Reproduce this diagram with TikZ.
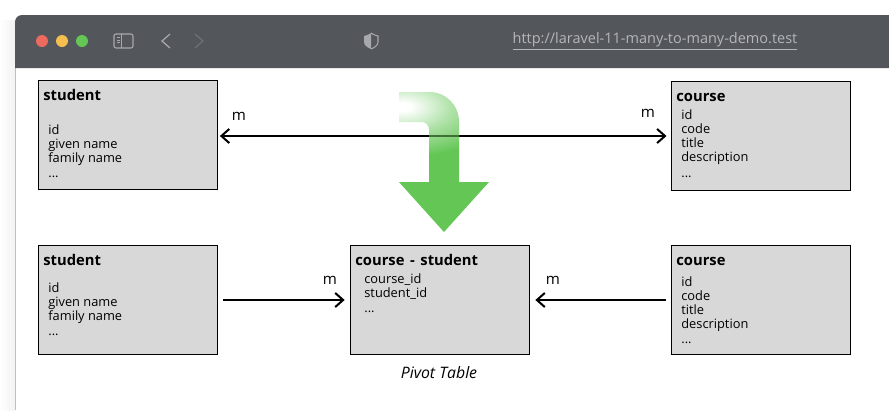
\documentclass[tikz,border=0pt]{standalone}
\usepackage{fontspec}
\setmainfont{Open Sans}
\usetikzlibrary{arrows.meta}
\definecolor{titlebar}{HTML}{53565B}
\definecolor{tablefill}{HTML}{D8D8D8}
\definecolor{bendgreen}{HTML}{63C655}
\definecolor{bendline}{HTML}{3F7036}
\definecolor{urlgray}{HTML}{B4B6B8}
\definecolor{icongray}{HTML}{A6A8AB}
\definecolor{dotred}{HTML}{EC6A5E}
\definecolor{dotyellow}{HTML}{F5BF4F}
\definecolor{chevrondim}{HTML}{6D7074}
\pgfdeclareradialshading{bendglow}{\pgfpointorigin}{color(0bp)=(white); color(1bp)=(white); color(6bp)=(bendgreen!50!white); color(12.5bp)=(bendgreen); color(50bp)=(bendgreen)}
\tikzset{
	tablebox/.style={draw, line width=0.7pt, fill=tablefill, minimum width=3.58cm, minimum height=2.18cm, inner sep=0pt},
	tabletitle/.style={anchor=base west, inner sep=0pt, font=\fontsize{8.4}{9}\selectfont\bfseries},
	tablefields/.style={anchor=north west, align=left, inner sep=0pt, font=\fontsize{7.3}{7.95}\selectfont},
	wire/.style={line width=1.15pt, {Straight Barb[length=4.5pt, width=8pt]}-{Straight Barb[length=4.5pt, width=8pt]}},
	onlyhead/.style={line width=1.15pt, -{Straight Barb[length=4.5pt, width=8pt]}},
	mlabel/.style={inner sep=0pt, font=\fontsize{8.6}{9}\selectfont},
}
\begin{document}
\begin{tikzpicture}[x=0.02cm, y=-0.02cm]
	\useasboundingbox (0, 0) rectangle (889, 410);
	% Window frame:
	\fill[white] (0, 0) rectangle (889, 410);
	\shade[left color=white, right color=black!5] (0, 20) rectangle (15, 410);
	\fill[white] (15, 60) rectangle (889, 410);
	\draw[black!25, line width=0.5pt] (15.5, 68) -- (15.5, 410);
	\fill[titlebar] (15, 68) [rounded corners=0.14cm] -- (15, 15) [sharp corners] -- (889, 15) -- (889, 68) -- cycle;
	\fill[dotred] (42, 41) circle (6);
	\fill[dotyellow] (62, 41) circle (6);
	\fill[bendgreen] (82, 41) circle (6);
	\draw[icongray, line width=0.6pt, rounded corners=0.04cm] (114, 34) rectangle (133, 48);
	\draw[icongray, line width=0.6pt] (121.5, 34) -- (121.5, 48);
	\draw[icongray, line width=0.4pt] (117, 37.5) -- (119.5, 37.5) (117, 40) -- (119.5, 40) (117, 42.5) -- (119.5, 42.5);
	\draw[icongray, line width=0.7pt] (170, 34) -- (162, 41) -- (170, 48);
	\draw[chevrondim, line width=0.7pt] (195, 34) -- (203, 41) -- (195, 48);
	\fill[icongray] (371, 33) .. controls (368, 35) and (366, 35.5) .. (364, 36) -- (364, 42) .. controls (364, 45) and (367, 47.5) .. (371, 49) -- cycle;
	\draw[icongray, line width=0.6pt] (371, 33) .. controls (374, 35) and (376, 35.5) .. (378, 36) -- (378, 42) .. controls (378, 45) and (375, 47.5) .. (371, 49);
	\node[inner sep=0pt, text=urlgray, font=\fontsize{8.25}{9}\selectfont] (url) at (655, 41){\underline{http://laravel-11-many-to-many-demo.test}};
	% Tables:
	\node[tablebox] (studentA) at (128, 135){};
	\node[tablebox] (courseA) at (761, 136){};
	\node[tablebox] (studentB) at (128, 300){};
	\node[tablebox] (pivot) at (440, 300){};
	\node[tablebox] (courseB) at (761, 300){};
	\node[tabletitle] (studentAtitle) at (43, 100){student};
	\node[tabletitle] (courseAtitle) at (676, 101){course};
	\node[tabletitle] (studentBtitle) at (43, 265){student};
	\node[tabletitle] (pivottitle) at (355, 265){course\hspace{1pt} - \hspace{1pt}student};
	\node[tabletitle] (courseBtitle) at (676, 265){course};
	\node[tablefields] (studentAfields) at (48, 124){id\\given name\\family name\\[1pt]...};
	\node[tablefields] (courseAfields) at (681, 109.5){id\\code\\title\\description\\[1pt]...};
	\node[tablefields] (studentBfields) at (48, 282){id\\given name\\family name\\[1pt]...};
	\node[tablefields] (pivotfields) at (364, 273){course\_id\\student\_id\\[1pt]...};
	\node[tablefields] (courseBfields) at (681, 276){id\\code\\title\\description\\[1pt]...};
	% Relations:
	\draw[wire, shorten <=1pt, shorten >=2.5pt] (studentA.east |- courseA.west) -- (courseA.west);
	\draw[onlyhead, shorten <=3pt, shorten >=3pt] (studentB) -- (pivot);
	\draw[onlyhead, shorten <=3pt, shorten >=3pt] (courseB) -- (pivot);
	\node[mlabel] (mA) at (239, 116){m};
	\node[mlabel] (mB) at (648, 113){m};
	\node[mlabel] (mC) at (330, 280){m};
	\node[mlabel] (mD) at (553, 280){m};
	\node[inner sep=0pt, font=\fontsize{9}{10}\selectfont\itshape] (pivotcaption) at (439, 373){Pivot Table};
	% Bent arrow:
	\begin{scope}
		\clip (399, 92) -- (429, 92) .. controls (446, 92) and (459, 105) .. (459, 122) -- (459, 182) -- (489, 182) -- (444, 232) -- (399, 182) -- (429, 182) -- (429, 130) .. controls (429, 125) and (426, 122) .. (421, 122) -- (399, 122) -- cycle;
		\shade[shading=bendglow] (203, 7) rectangle (603, 207);
		\fill[bendgreen] (203, 207) rectangle (603, 240);
		\draw[bendline, line width=1.15pt] (studentA.east |- courseA.west) -- (courseA.west);
	\end{scope}
\end{tikzpicture}
\end{document}
